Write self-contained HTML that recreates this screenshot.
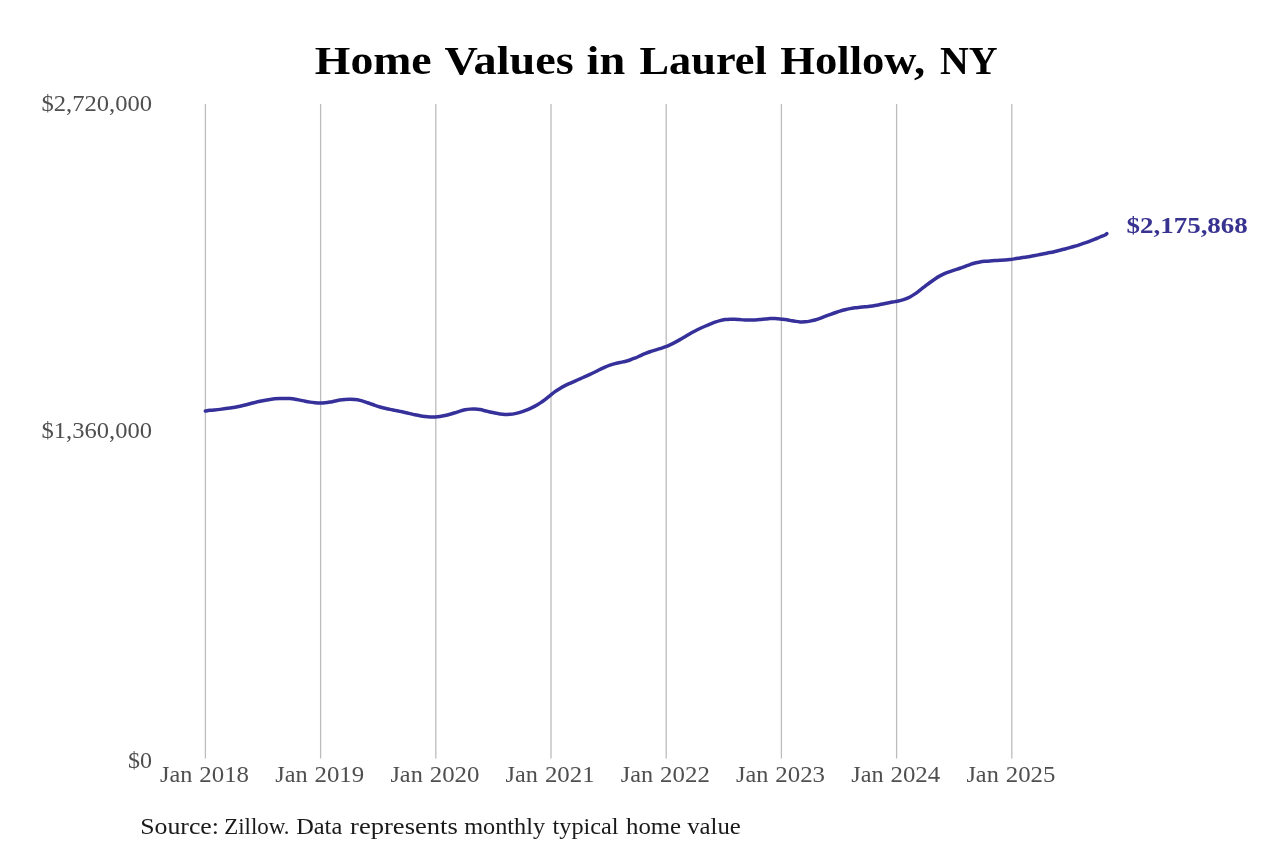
<!DOCTYPE html>
<html><head><meta charset="utf-8"><style>
html,body{margin:0;padding:0;background:#fff;width:1280px;height:853px;overflow:hidden}
svg{display:block;will-change:transform}
text{font-family:"Liberation Serif", serif}
</style></head><body>
<svg width="1280" height="853" viewBox="0 0 1280 853">
<rect width="1280" height="853" fill="#fff"/>
<text x="314.82" y="73.75" font-size="39" font-weight="bold" fill="#000" textLength="116.87" lengthAdjust="spacingAndGlyphs">Home</text>
<text x="444.40" y="73.75" font-size="39" font-weight="bold" fill="#000" textLength="129.30" lengthAdjust="spacingAndGlyphs">Values</text>
<text x="586.58" y="73.75" font-size="39" font-weight="bold" fill="#000" textLength="38.62" lengthAdjust="spacingAndGlyphs">in</text>
<text x="639.55" y="73.75" font-size="39" font-weight="bold" fill="#000" textLength="127.31" lengthAdjust="spacingAndGlyphs">Laurel</text>
<text x="780.35" y="73.75" font-size="39" font-weight="bold" fill="#000" textLength="144.92" lengthAdjust="spacingAndGlyphs">Hollow,</text>
<text x="939.94" y="73.75" font-size="39" font-weight="bold" fill="#000" textLength="57.62" lengthAdjust="spacingAndGlyphs">NY</text>
<line x1="205.40" y1="104" x2="205.40" y2="758.5" stroke="#bcbcbc" stroke-width="1.3"/>
<line x1="320.60" y1="104" x2="320.60" y2="758.5" stroke="#bcbcbc" stroke-width="1.3"/>
<line x1="435.80" y1="104" x2="435.80" y2="758.5" stroke="#bcbcbc" stroke-width="1.3"/>
<line x1="551.00" y1="104" x2="551.00" y2="758.5" stroke="#bcbcbc" stroke-width="1.3"/>
<line x1="666.20" y1="104" x2="666.20" y2="758.5" stroke="#bcbcbc" stroke-width="1.3"/>
<line x1="781.40" y1="104" x2="781.40" y2="758.5" stroke="#bcbcbc" stroke-width="1.3"/>
<line x1="896.60" y1="104" x2="896.60" y2="758.5" stroke="#bcbcbc" stroke-width="1.3"/>
<line x1="1011.80" y1="104" x2="1011.80" y2="758.5" stroke="#bcbcbc" stroke-width="1.3"/>
<text x="41.44" y="110.70" font-size="22.8" fill="#4f4f4f" textLength="110.59" lengthAdjust="spacingAndGlyphs">$2,720,000</text>
<text x="41.54" y="437.70" font-size="22.8" fill="#4f4f4f" textLength="110.49" lengthAdjust="spacingAndGlyphs">$1,360,000</text>
<text x="127.97" y="767.60" font-size="22.8" fill="#4f4f4f" textLength="23.99" lengthAdjust="spacingAndGlyphs">$0</text>
<text x="160.04" y="781.50" font-size="23" fill="#4f4f4f" textLength="32.33" lengthAdjust="spacingAndGlyphs">Jan</text>
<text x="199.31" y="781.50" font-size="23" fill="#4f4f4f" textLength="49.69" lengthAdjust="spacingAndGlyphs">2018</text>
<text x="275.24" y="781.50" font-size="23" fill="#4f4f4f" textLength="32.33" lengthAdjust="spacingAndGlyphs">Jan</text>
<text x="314.51" y="781.50" font-size="23" fill="#4f4f4f" textLength="49.69" lengthAdjust="spacingAndGlyphs">2019</text>
<text x="390.44" y="781.50" font-size="23" fill="#4f4f4f" textLength="32.33" lengthAdjust="spacingAndGlyphs">Jan</text>
<text x="429.71" y="781.50" font-size="23" fill="#4f4f4f" textLength="49.69" lengthAdjust="spacingAndGlyphs">2020</text>
<text x="505.64" y="781.50" font-size="23" fill="#4f4f4f" textLength="32.33" lengthAdjust="spacingAndGlyphs">Jan</text>
<text x="544.91" y="781.50" font-size="23" fill="#4f4f4f" textLength="49.69" lengthAdjust="spacingAndGlyphs">2021</text>
<text x="620.84" y="781.50" font-size="23" fill="#4f4f4f" textLength="32.33" lengthAdjust="spacingAndGlyphs">Jan</text>
<text x="660.11" y="781.50" font-size="23" fill="#4f4f4f" textLength="49.69" lengthAdjust="spacingAndGlyphs">2022</text>
<text x="736.04" y="781.50" font-size="23" fill="#4f4f4f" textLength="32.33" lengthAdjust="spacingAndGlyphs">Jan</text>
<text x="775.31" y="781.50" font-size="23" fill="#4f4f4f" textLength="49.69" lengthAdjust="spacingAndGlyphs">2023</text>
<text x="851.24" y="781.50" font-size="23" fill="#4f4f4f" textLength="32.33" lengthAdjust="spacingAndGlyphs">Jan</text>
<text x="890.51" y="781.50" font-size="23" fill="#4f4f4f" textLength="49.69" lengthAdjust="spacingAndGlyphs">2024</text>
<text x="966.44" y="781.50" font-size="23" fill="#4f4f4f" textLength="32.33" lengthAdjust="spacingAndGlyphs">Jan</text>
<text x="1005.71" y="781.50" font-size="23" fill="#4f4f4f" textLength="49.69" lengthAdjust="spacingAndGlyphs">2025</text>
<path d="M205.40,411.10 C206.17,410.97 207.57,410.61 210.00,410.33 C212.43,410.04 216.67,409.75 220.00,409.37 C223.33,409.00 226.67,408.62 230.00,408.10 C233.33,407.58 236.67,406.95 240.00,406.22 C243.33,405.50 246.67,404.60 250.00,403.77 C253.33,402.95 256.67,401.98 260.00,401.25 C263.33,400.52 266.67,399.84 270.00,399.40 C273.33,398.96 276.67,398.75 280.00,398.62 C283.33,398.50 287.50,398.54 290.00,398.62 C292.50,398.71 293.33,398.90 295.00,399.15 C296.67,399.40 298.33,399.78 300.00,400.12 C301.67,400.47 303.33,400.89 305.00,401.23 C306.67,401.56 308.33,401.88 310.00,402.12 C311.67,402.38 313.33,402.58 315.00,402.73 C316.67,402.87 318.33,402.97 320.00,402.98 C321.67,402.98 323.33,402.93 325.00,402.78 C326.67,402.62 328.33,402.37 330.00,402.07 C331.67,401.78 333.33,401.36 335.00,401.02 C336.67,400.69 338.33,400.31 340.00,400.05 C341.67,399.79 343.33,399.60 345.00,399.47 C346.67,399.35 348.33,399.29 350.00,399.30 C351.67,399.31 353.33,399.35 355.00,399.52 C356.67,399.70 358.33,399.97 360.00,400.35 C361.67,400.73 363.33,401.28 365.00,401.83 C366.67,402.37 368.33,403.01 370.00,403.60 C371.67,404.19 373.33,404.79 375.00,405.35 C376.67,405.91 378.33,406.46 380.00,406.95 C381.67,407.44 383.33,407.90 385.00,408.30 C386.67,408.70 388.33,409.03 390.00,409.37 C391.67,409.72 393.33,410.02 395.00,410.35 C396.67,410.68 398.33,411.03 400.00,411.38 C401.67,411.72 403.33,412.06 405.00,412.42 C406.67,412.79 408.33,413.18 410.00,413.58 C411.67,413.97 413.33,414.42 415.00,414.80 C416.67,415.17 418.33,415.53 420.00,415.82 C421.67,416.12 423.33,416.36 425.00,416.55 C426.67,416.74 428.33,416.90 430.00,416.98 C431.67,417.05 433.33,417.06 435.00,416.98 C436.67,416.89 438.33,416.72 440.00,416.48 C441.67,416.23 443.33,415.90 445.00,415.53 C446.67,415.15 448.33,414.72 450.00,414.25 C451.67,413.78 453.33,413.25 455.00,412.73 C456.67,412.20 458.33,411.59 460.00,411.10 C461.67,410.61 463.33,410.13 465.00,409.80 C466.67,409.47 468.33,409.25 470.00,409.12 C471.67,409.00 473.33,408.97 475.00,409.05 C476.67,409.13 478.33,409.32 480.00,409.60 C481.67,409.88 483.33,410.33 485.00,410.73 C486.67,411.12 488.33,411.61 490.00,412.00 C491.67,412.39 493.33,412.76 495.00,413.08 C496.67,413.39 498.33,413.68 500.00,413.90 C501.67,414.12 503.33,414.30 505.00,414.38 C506.67,414.45 508.33,414.45 510.00,414.32 C511.67,414.20 513.33,413.96 515.00,413.62 C516.67,413.29 518.33,412.82 520.00,412.32 C521.67,411.82 523.33,411.24 525.00,410.62 C526.67,410.01 528.33,409.37 530.00,408.62 C531.67,407.88 533.33,407.06 535.00,406.15 C536.67,405.24 538.33,404.23 540.00,403.15 C541.67,402.07 543.33,400.90 545.00,399.65 C546.67,398.40 548.33,396.97 550.00,395.65 C551.67,394.32 553.33,392.91 555.00,391.70 C556.67,390.49 558.33,389.38 560.00,388.38 C561.67,387.37 563.33,386.52 565.00,385.68 C566.67,384.83 568.33,384.07 570.00,383.30 C571.67,382.53 573.33,381.79 575.00,381.05 C576.67,380.31 578.33,379.58 580.00,378.85 C581.67,378.12 583.33,377.40 585.00,376.65 C586.67,375.90 588.33,375.15 590.00,374.38 C591.67,373.60 593.33,372.79 595.00,371.98 C596.67,371.16 598.33,370.30 600.00,369.50 C601.67,368.70 603.33,367.87 605.00,367.15 C606.67,366.43 608.33,365.76 610.00,365.18 C611.67,364.59 613.33,364.10 615.00,363.65 C616.67,363.20 618.33,362.87 620.00,362.50 C621.67,362.13 623.33,361.85 625.00,361.43 C626.67,361.00 628.33,360.54 630.00,359.98 C631.67,359.41 633.33,358.71 635.00,358.02 C636.67,357.34 638.33,356.58 640.00,355.85 C641.67,355.12 643.33,354.36 645.00,353.67 C646.67,352.99 648.33,352.32 650.00,351.73 C651.67,351.13 653.33,350.64 655.00,350.13 C656.67,349.61 658.33,349.17 660.00,348.65 C661.67,348.12 663.33,347.60 665.00,346.98 C666.67,346.35 668.33,345.64 670.00,344.88 C671.67,344.11 673.33,343.25 675.00,342.38 C676.67,341.50 678.33,340.57 680.00,339.62 C681.67,338.68 683.33,337.68 685.00,336.70 C686.67,335.72 688.33,334.70 690.00,333.75 C691.67,332.80 693.33,331.85 695.00,330.98 C696.67,330.10 698.33,329.29 700.00,328.50 C701.67,327.71 703.33,326.98 705.00,326.25 C706.67,325.52 708.33,324.80 710.00,324.12 C711.67,323.45 713.33,322.78 715.00,322.20 C716.67,321.62 718.33,321.06 720.00,320.62 C721.67,320.19 723.33,319.84 725.00,319.60 C726.67,319.36 728.33,319.23 730.00,319.18 C731.67,319.12 733.33,319.20 735.00,319.27 C736.67,319.35 738.33,319.52 740.00,319.62 C741.67,319.73 743.33,319.84 745.00,319.90 C746.67,319.96 748.33,320.00 750.00,320.00 C751.67,320.00 753.33,319.95 755.00,319.88 C756.67,319.80 758.33,319.67 760.00,319.52 C761.67,319.38 763.33,319.17 765.00,319.02 C766.67,318.88 768.33,318.70 770.00,318.62 C771.67,318.55 773.33,318.55 775.00,318.60 C776.67,318.65 778.33,318.77 780.00,318.92 C781.67,319.08 783.33,319.29 785.00,319.52 C786.67,319.76 788.33,320.06 790.00,320.35 C791.67,320.64 793.33,321.00 795.00,321.25 C796.67,321.50 798.33,321.78 800.00,321.88 C801.67,321.97 803.33,321.93 805.00,321.80 C806.67,321.68 808.33,321.43 810.00,321.12 C811.67,320.82 813.33,320.46 815.00,320.00 C816.67,319.54 818.33,318.95 820.00,318.35 C821.67,317.75 823.33,317.06 825.00,316.42 C826.67,315.79 828.33,315.16 830.00,314.55 C831.67,313.94 833.33,313.35 835.00,312.77 C836.67,312.20 838.33,311.62 840.00,311.10 C841.67,310.58 843.33,310.09 845.00,309.68 C846.67,309.26 848.33,308.90 850.00,308.60 C851.67,308.30 853.33,308.07 855.00,307.85 C856.67,307.63 858.33,307.48 860.00,307.30 C861.67,307.12 863.33,306.98 865.00,306.80 C866.67,306.62 868.33,306.46 870.00,306.25 C871.67,306.04 873.33,305.80 875.00,305.52 C876.67,305.25 878.33,304.91 880.00,304.58 C881.67,304.24 883.33,303.85 885.00,303.50 C886.67,303.15 888.33,302.81 890.00,302.50 C891.67,302.19 893.33,301.96 895.00,301.65 C896.67,301.34 898.33,301.07 900.00,300.65 C901.67,300.23 903.33,299.77 905.00,299.15 C906.67,298.53 908.33,297.81 910.00,296.93 C911.67,296.04 913.33,294.96 915.00,293.83 C916.67,292.69 918.33,291.38 920.00,290.12 C921.67,288.87 923.33,287.55 925.00,286.27 C926.67,285.00 928.33,283.72 930.00,282.50 C931.67,281.28 933.33,280.07 935.00,278.97 C936.67,277.87 938.33,276.82 940.00,275.90 C941.67,274.98 943.33,274.18 945.00,273.45 C946.67,272.72 948.33,272.14 950.00,271.55 C951.67,270.96 953.33,270.45 955.00,269.90 C956.67,269.35 958.33,268.82 960.00,268.25 C961.67,267.68 963.33,267.08 965.00,266.48 C966.67,265.87 968.33,265.20 970.00,264.62 C971.67,264.05 973.33,263.47 975.00,263.02 C976.67,262.58 978.33,262.24 980.00,261.95 C981.67,261.66 983.33,261.48 985.00,261.30 C986.67,261.12 988.33,261.00 990.00,260.88 C991.67,260.75 993.33,260.65 995.00,260.55 C996.67,260.45 998.33,260.37 1000.00,260.27 C1001.67,260.18 1003.33,260.10 1005.00,259.98 C1006.67,259.85 1008.33,259.70 1010.00,259.50 C1011.67,259.30 1013.33,259.03 1015.00,258.77 C1016.67,258.52 1018.33,258.21 1020.00,257.95 C1021.67,257.69 1023.33,257.45 1025.00,257.20 C1026.67,256.95 1028.33,256.72 1030.00,256.45 C1031.67,256.18 1033.33,255.87 1035.00,255.55 C1036.67,255.23 1038.33,254.88 1040.00,254.55 C1041.67,254.22 1043.33,253.90 1045.00,253.58 C1046.67,253.25 1048.33,252.93 1050.00,252.57 C1051.67,252.22 1053.33,251.83 1055.00,251.43 C1056.67,251.03 1058.33,250.59 1060.00,250.18 C1061.67,249.76 1063.33,249.37 1065.00,248.95 C1066.67,248.53 1068.33,248.11 1070.00,247.65 C1071.67,247.19 1073.33,246.68 1075.00,246.17 C1076.67,245.67 1078.33,245.14 1080.00,244.60 C1081.67,244.06 1083.33,243.51 1085.00,242.93 C1086.67,242.34 1088.33,241.73 1090.00,241.10 C1091.67,240.47 1093.33,239.81 1095.00,239.12 C1096.67,238.44 1098.33,237.68 1100.00,237.00 C1101.67,236.32 1103.87,235.62 1105.00,235.05 C1106.13,234.48 1106.50,233.84 1106.80,233.60" fill="none" stroke="#36309a" stroke-width="3.5" stroke-linejoin="round" stroke-linecap="round"/>
<text x="1126.54" y="232.50" font-size="22.8" font-weight="bold" fill="#383290" textLength="121.26" lengthAdjust="spacingAndGlyphs">$2,175,868</text>
<text x="140.17" y="834.20" font-size="23" fill="#1a1a1a" textLength="78.82" lengthAdjust="spacingAndGlyphs">Source:</text>
<text x="224.18" y="834.20" font-size="23" fill="#1a1a1a" textLength="65.40" lengthAdjust="spacingAndGlyphs">Zillow.</text>
<text x="296.20" y="834.20" font-size="23" fill="#1a1a1a" textLength="46.04" lengthAdjust="spacingAndGlyphs">Data</text>
<text x="350.07" y="834.20" font-size="23" fill="#1a1a1a" textLength="107.79" lengthAdjust="spacingAndGlyphs">represents</text>
<text x="464.24" y="834.20" font-size="23" fill="#1a1a1a" textLength="80.85" lengthAdjust="spacingAndGlyphs">monthly</text>
<text x="552.51" y="834.20" font-size="23" fill="#1a1a1a" textLength="66.07" lengthAdjust="spacingAndGlyphs">typical</text>
<text x="626.01" y="834.20" font-size="23" fill="#1a1a1a" textLength="55.15" lengthAdjust="spacingAndGlyphs">home</text>
<text x="687.20" y="834.20" font-size="23" fill="#1a1a1a" textLength="53.66" lengthAdjust="spacingAndGlyphs">value</text>
</svg>
</body></html>
